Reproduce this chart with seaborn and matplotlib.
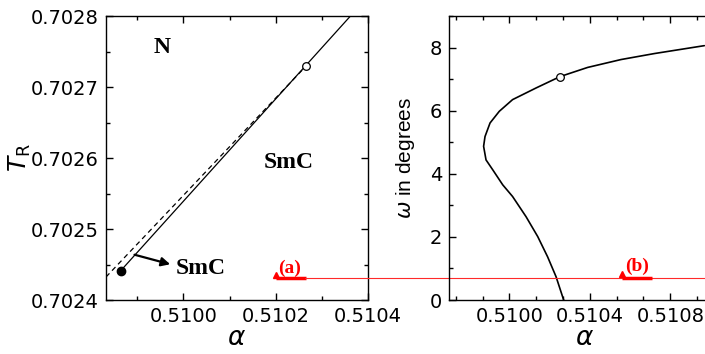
import numpy as np
import matplotlib
matplotlib.use("Agg")
import matplotlib.pyplot as plt
from matplotlib.ticker import MultipleLocator, AutoMinorLocator, FormatStrFormatter
import seaborn as sns

# ── data ─────────────────────────────────────────────────────
# left panel: T_R vs alpha
solid_alpha = [0.509864, 0.510362]
solid_T = [0.7024413, 0.7028]
dash_alpha = [0.509832, 0.510265]
dash_T = [0.7024324, 0.702729]
open_pt_left = (0.510265, 0.70273)
filled_pt_left = (0.509864, 0.7024413)

# right panel: omega (degrees) vs alpha
omega = [0.0, 0.74, 1.37, 2.01, 2.64, 3.28, 3.65, 4.13, 4.44, 4.87,
         5.18, 5.61, 5.98, 6.35, 6.72, 7.08, 7.37, 7.62, 7.81, 8.06]
alpha_curve = [0.510270, 0.510232, 0.510190, 0.510141, 0.510083, 0.510016,
               0.509967, 0.509917, 0.509884, 0.509872, 0.509879, 0.509904,
               0.509950, 0.510016, 0.510133, 0.510252, 0.510389, 0.510555,
               0.510721, 0.510969]
open_pt_right = (0.510252, 7.08)

# red reference level
red_T = 0.702431
red_omega = 0.70

sns.set_style("ticks", {'axes.edgecolor': 'black', 'xtick.color': 'black',
                        'ytick.color': 'black', 'text.color': 'black',
                        'axes.labelcolor': 'black'})
plt.rcParams['font.family'] = ['DejaVu Sans']
plt.rcParams['mathtext.fontset'] = 'dejavusans'

fig = plt.figure(figsize=(7.05, 3.54), dpi=100)
W, H = 705, 354
ax1 = fig.add_axes([106 / W, 1 - 300 / H, 262 / W, 284 / H])
ax2 = fig.add_axes([449 / W, 1 - 300 / H, 271.6 / W, 284 / H])

# ── left panel ──
sns.lineplot(x=solid_alpha, y=solid_T, ax=ax1, color='k', lw=0.9,
             estimator=None, errorbar=None)
sns.lineplot(x=dash_alpha, y=dash_T, ax=ax1, color='k', lw=0.9,
             linestyle=(0, (4, 3)), estimator=None, errorbar=None)
ax1.plot(*open_pt_left, 'o', mfc='white', mec='k', ms=5.5, mew=0.9, zorder=5)
ax1.plot(*filled_pt_left, 'o', color='k', ms=6, zorder=5)
ax1.set_xlim(0.509832, 0.5104)
ax1.set_ylim(0.7024, 0.7028)

serif = dict(family='Liberation Serif', weight='bold')
ax1.text(0.509954, 0.702755, 'N', fontsize=17, ha='center', va='center', **serif)
ax1.text(0.5102276, 0.702593, 'SmC', fontsize=17, ha='center', va='center', **serif)
ax1.text(0.509983, 0.702445, 'SmC', fontsize=17, ha='left', va='center', **serif)
ax1.annotate('', xy=(0.509977, 0.7024493), xytext=(0.509888, 0.7024648),
             arrowprops=dict(arrowstyle='-|>', color='k', lw=1.6, mutation_scale=13))

ax1.text(0.510206, red_T + 0.000002, '(a)', color='red', fontsize=14,
         ha='left', va='bottom', **serif)
ax1.plot([0.510200, 0.510265], [red_T, red_T], color='red', lw=2.5,
         solid_capstyle='butt', clip_on=False)
ax1.plot(0.510200, red_T + 0.000004, marker='^', color='red', ms=4, clip_on=False)

ax1.xaxis.set_major_locator(MultipleLocator(0.0002))
ax1.xaxis.set_minor_locator(AutoMinorLocator(2))
ax1.xaxis.set_major_formatter(FormatStrFormatter('%.4f'))
ax1.yaxis.set_major_locator(MultipleLocator(0.0001))
ax1.yaxis.set_minor_locator(AutoMinorLocator(2))
ax1.yaxis.set_major_formatter(FormatStrFormatter('%.4f'))
ax1.set_ylabel(r'$T_\mathrm{R}$', fontsize=18)
ax1.yaxis.label.set_va('center')
ax1.yaxis.set_label_coords(-0.33, 0.5)

# ── right panel ──
sns.lineplot(x=alpha_curve, y=omega, ax=ax2, color='k', lw=1.2, sort=False,
             estimator=None, errorbar=None)
ax2.plot(*open_pt_right, 'o', mfc='white', mec='k', ms=5.5, mew=0.9, zorder=5)
ax2.set_xlim(0.5097, 0.51105)
ax2.set_ylim(0, 9)
ax2.xaxis.set_major_locator(MultipleLocator(0.0004))
ax2.xaxis.set_minor_locator(AutoMinorLocator(3))
ax2.xaxis.set_major_formatter(FormatStrFormatter('%.4f'))
ax2.yaxis.set_major_locator(MultipleLocator(2))
ax2.yaxis.set_minor_locator(AutoMinorLocator(2))
ax2.set_ylabel(r'$\omega$ in degrees', fontsize=15, family='Liberation Sans')
ax2.yaxis.label.set_va('center')
ax2.yaxis.set_label_coords(-0.162, 0.5)

# red line running from (a) across to the right edge
ax2.axhline(red_omega, xmin=(305 - 449) / 271.6, xmax=1, color='#ff2a2a',
            lw=0.8, clip_on=False)
ax2.text(0.510576, red_omega + 0.08, '(b)', color='red', fontsize=14,
         ha='left', va='bottom', **serif)
ax2.plot([0.510562, 0.510711], [red_omega, red_omega], color='red', lw=2.5,
         solid_capstyle='butt')
ax2.plot(0.510562, red_omega + 0.12, marker='^', color='red', ms=4)

for ax in (ax1, ax2):
    ax.set_xlabel(r'$\alpha$', fontsize=19)
    ax.xaxis.label.set_va('center')
    ax.xaxis.set_label_coords(0.5, -0.135)
    ax.tick_params(which='both', direction='in', top=True, right=True,
                   labelsize=14, width=1, pad=5, color='black', labelcolor='black')
    ax.tick_params(which='major', length=5)
    ax.tick_params(which='minor', length=3)
    for s in ax.spines.values():
        s.set_linewidth(1)
        s.set_color('black')
        s.set_visible(True)

fig.savefig('out.png', dpi=100)
